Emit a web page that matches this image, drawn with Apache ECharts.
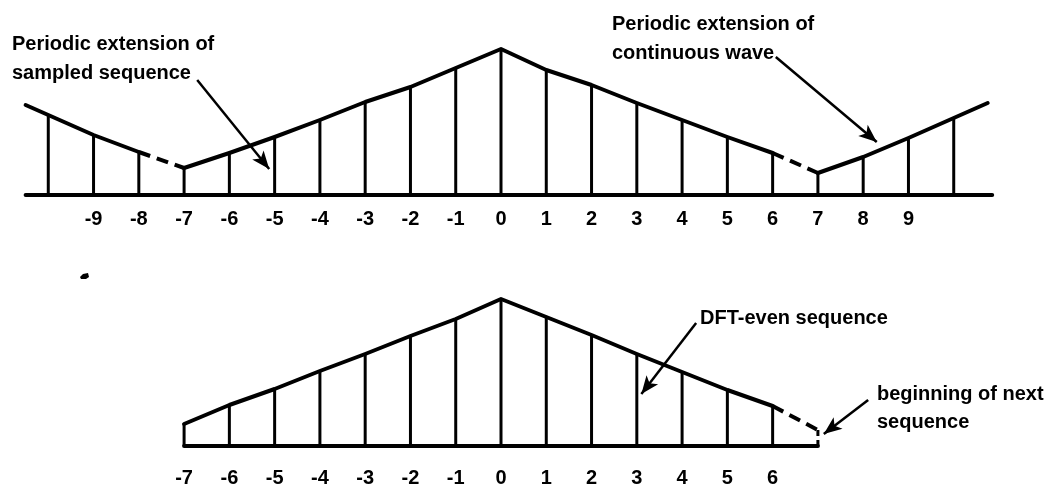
<!DOCTYPE html>
<html><head><meta charset="utf-8">
<script src="https://cdn.jsdelivr.net/npm/echarts@6/dist/echarts.min.js"></script>
<style>html,body{margin:0;padding:0;background:#fff}#c{width:1051px;height:490px}</style>
</head><body><div id="c"></div>
<script>
// ---------- DATA ----------
// Top panel: sampled periodic extension, n = -10 .. 10
const topN    = [-10,-9,-8,-7,-6,-5,-4,-3,-2,-1,0,1,2,3,4,5,6,7,8,9,10];
const topVals = [80,60,43,27,42,58,75,93,108,127,146,125,110,92,75,58,42,22,38,57,77];
const topWaveStart = [-10.5, 90];   // continuous wave, left end
const topWaveEnd   = [10.75, 92];   // continuous wave, right end
const topBaseRange = [-10.5, 10.85];
const topGaps = [[-8,-7],[6,7]];    // dashed pieces of the wave
const topTickLabels = [-9,-8,-7,-6,-5,-4,-3,-2,-1,0,1,2,3,4,5,6,7,8,9];

// Bottom panel: DFT-even sequence, n = -7 .. 6
const botN    = [-7,-6,-5,-4,-3,-2,-1,0,1,2,3,4,5,6];
const botVals = [22,41,57,75,92,110,127,147,129,111,92,74,56,40];
const botNext = [7, 16];            // beginning of next sequence
const botBaseRange = [-7, 7];
const botTickLabels = [-7,-6,-5,-4,-3,-2,-1,0,1,2,3,4,5,6];

// ---------- BUILD ----------
const FONT = 'Liberation Sans';
const pairs = (ns, vs) => ns.map((n,i)=>[n, vs[i]]);
const topPts = pairs(topN, topVals);
const botPts = pairs(botN, botVals);
const between = (pts,a,b) => pts.filter(p=>p[0]>=a && p[0]<=b);

function stems(xi, data, dashed){
  return {type:'custom', xAxisIndex:xi, yAxisIndex:xi, data, silent:true, clip:false, z:3,
    encode:{x:0,y:1},
    renderItem:(params, api)=>{
      const p0 = api.coord([api.value(0), 0]);
      const p1 = api.coord([api.value(0), api.value(1)]);
      return {type:'line', shape:{x1:p0[0],y1:p0[1],x2:p1[0],y2:p1[1]},
        style:{stroke:'#000', lineWidth:3, lineDash: dashed ? [6,4] : null}};
    }};
}
function wave(xi, data, dashed, extra){
  return Object.assign({type:'line', xAxisIndex:xi, yAxisIndex:xi, data, showSymbol:false, silent:true,
    animation:false, z:4,
    lineStyle:{color:'#000', width:4, type: dashed ? [12,7] : 'solid', cap: dashed ? 'butt':'round', join:'round'}}, extra||{});
}
const arrowML = (list) => ({silent:true, animation:false, symbol:['none','arrow'], symbolSize:[11,18],
  lineStyle:{color:'#000', width:2.5, type:'solid'}, label:{show:false}, emphasis:{disabled:true},
  data: list.map(a=>[{coord:a[0]},{coord:a[1]}])});

const series = [];
// top
series.push(wave(0, [[topBaseRange[0],0],[topBaseRange[1],0]], false, {
  markLine: arrowML([[[-6.71,115],[-5.12,26]], [[6.07,138],[8.30,53]]])
}));
series.push(stems(0, topPts, false));
series.push(wave(0, [topWaveStart].concat(between(topPts, -Infinity, topGaps[0][0]))));
series.push(wave(0, between(topPts, topGaps[0][0], topGaps[0][1]), true));
series.push(wave(0, between(topPts, topGaps[0][1], topGaps[1][0])));
series.push(wave(0, between(topPts, topGaps[1][0], topGaps[1][1]), true));
series.push(wave(0, between(topPts, topGaps[1][1], Infinity).concat([topWaveEnd])));
// bottom
series.push(wave(1, [[botBaseRange[0],0],[botBaseRange[1],0]], false, {
  markLine: arrowML([[[4.31,123],[3.10,52]], [[8.11,46],[7.13,12]]])
}));
series.push(stems(1, botPts, false));
series.push(stems(1, [botNext], true));
series.push(wave(1, botPts));
series.push(wave(1, [botPts[botPts.length-1], botNext], true));

function xAxis(gi, labels, margin){
  return {type:'value', gridIndex:gi, min:-11, max:11, interval:1,
    axisLine:{show:false}, axisTick:{show:false}, splitLine:{show:false},
    axisLabel:{show:true, margin, color:'#000', fontSize:20, fontWeight:'bold', fontFamily:FONT,
      showMinLabel:true, showMaxLabel:true, hideOverlap:false,
      formatter: v => labels.indexOf(v) >= 0 ? String(v) : ''}};
}
const yAxis = gi => ({type:'value', gridIndex:gi, min:0, max:150, show:false});

const txt = (x,y,text,lh) => ({type:'text', x, y, silent:true,
  style:{text, fill:'#000', fontSize:20, fontWeight:'bold', fontFamily:FONT, lineHeight:lh, verticalAlign:'top'}});

const option = {
  backgroundColor:'#fff',
  animation:false,
  grid:[{left:0, width:999, top:45, height:150},{left:0, width:999, top:296, height:150}],
  xAxis:[xAxis(0, topTickLabels, 14), xAxis(1, botTickLabels, 22)],
  yAxis:[yAxis(0), yAxis(1)],
  series,
  graphic:[
    txt(12, 30, 'Periodic extension of\nsampled sequence', 29),
    txt(612, 10, 'Periodic extension of\ncontinuous wave', 29),
    txt(700, 304, 'DFT-even sequence', 29),
    txt(877, 380, 'beginning of next\nsequence', 28),
    {type:'polygon', silent:true, shape:{points:[[80,277],[83,274],[88,273],[89,277],[86,279],[81,279]]}, style:{fill:'#000'}}
  ]
};
const chart = echarts.init(document.getElementById('c'), null, {renderer:'canvas'});
chart.setOption(option);
</script></body></html>
